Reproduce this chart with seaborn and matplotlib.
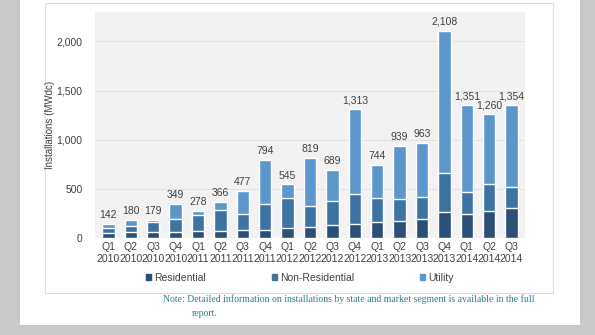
import matplotlib
matplotlib.use("Agg")
import matplotlib.pyplot as plt
from matplotlib.patches import Rectangle
import seaborn as sns
import pandas as pd
import numpy as np

quarters = ["Q1\n2010", "Q2\n2010", "Q3\n2010", "Q4\n2010",
            "Q1\n2011", "Q2\n2011", "Q3\n2011", "Q4\n2011",
            "Q1\n2012", "Q2\n2012", "Q3\n2012", "Q4\n2012",
            "Q1\n2013", "Q2\n2013", "Q3\n2013", "Q4\n2013",
            "Q1\n2014", "Q2\n2014", "Q3\n2014"]
residential = [55, 57, 60, 64, 74, 67, 77, 78, 105, 112, 129, 139, 165, 173, 190, 260, 244, 270, 307]
non_residential = [45, 68, 105, 130, 165, 220, 170, 264, 301, 210, 250, 305, 244, 220, 230, 400, 229, 278, 217]
totals = [142, 180, 179, 349, 278, 366, 477, 794, 545, 819, 689, 1313, 744, 939, 963, 2108, 1351, 1260, 1354]
utility = [t - r - n for t, r, n in zip(totals, residential, non_residential)]

c_res = "#2b4f77"
c_non = "#3d73a3"
c_util = "#5b97cc"

df = pd.DataFrame({
    "quarter": quarters,
    "res": residential,
    "res_non": [r + n for r, n in zip(residential, non_residential)],
    "total": [r + n + u for r, n, u in zip(residential, non_residential, utility)],
})

sns.set_theme(style="white")
plt.rcParams["font.family"] = ["Liberation Sans", "DejaVu Sans"]

fig = plt.figure(figsize=(5.95, 3.35), dpi=100)
W, H = 595, 335
fig.patch.set_facecolor("#c9c9c9")
# white card
fig.patches.append(Rectangle((20 / W, 10 / H), 560 / W, 325 / H, transform=fig.transFigure,
                             facecolor="white", edgecolor="none", zorder=-3))
# inner chart frame
fig.patches.append(Rectangle((45 / W, (H - 293) / H), 508 / W, 290 / H, transform=fig.transFigure,
                             facecolor="white", edgecolor="#dddddd", linewidth=0.8, zorder=-2))

ax = fig.add_axes([95 / W, (H - 238) / H, 430 / W, 226 / H])
ax.set_facecolor("#f2f2f2")

sns.barplot(data=df, x="quarter", y="total", color=c_util, width=0.55, ax=ax,
            saturation=1, zorder=3)
sns.barplot(data=df, x="quarter", y="res_non", color=c_non, width=0.55, ax=ax,
            saturation=1, zorder=3)
sns.barplot(data=df, x="quarter", y="res", color=c_res, width=0.55, ax=ax,
            saturation=1, zorder=3)

for i, t in enumerate(df["total"]):
    ax.text(i, t + 40, f"{t:,}", ha="center", va="bottom", fontsize=7.5, color="#404040")

ax.set_ylim(0, 2300)
ax.set_xlim(-0.6, len(quarters) - 0.4)
ax.set_yticks([0, 500, 1000, 1500, 2000])
ax.set_yticklabels(["0", "500", "1,000", "1,500", "2,000"])
ax.yaxis.grid(True, color="#e2e2e2", linewidth=0.8, zorder=0)
ax.set_axisbelow(True)
for s in ax.spines.values():
    s.set_visible(False)
ax.tick_params(axis="both", length=0, labelsize=7.5, colors="#404040")
ax.tick_params(axis="y", pad=9)
ax.tick_params(axis="x", pad=3)
ax.set_xlabel("")
ax.set_ylabel("Installations (MWdc)", fontsize=7, color="#404040")
ax.yaxis.set_label_coords(-0.093, 0.5)

handles = [Rectangle((0, 0), 1, 1, color=c_res),
           Rectangle((0, 0), 1, 1, color=c_non),
           Rectangle((0, 0), 1, 1, color=c_util)]
fig.legend(handles, ["Residential", "Non-Residential", "Utility"],
           loc="center", bbox_to_anchor=(300 / W, (H - 278) / H), ncol=3,
           frameon=False, fontsize=7.5, handlelength=0.5, handleheight=0.5,
           handletextpad=0.3, columnspacing=6.3, labelcolor="#404040")

fig.text(163 / W, (H - 299) / H,
         "Note: Detailed information on installations by state and market segment is available in the full",
         fontsize=7, family=["Liberation Serif", "DejaVu Serif"], color="#2f7f8c", va="center")
fig.text(192 / W, (H - 314) / H, "report.",
         fontsize=7, family=["Liberation Serif", "DejaVu Serif"], color="#2f7f8c", va="center")

fig.savefig("out.png", dpi=100)
